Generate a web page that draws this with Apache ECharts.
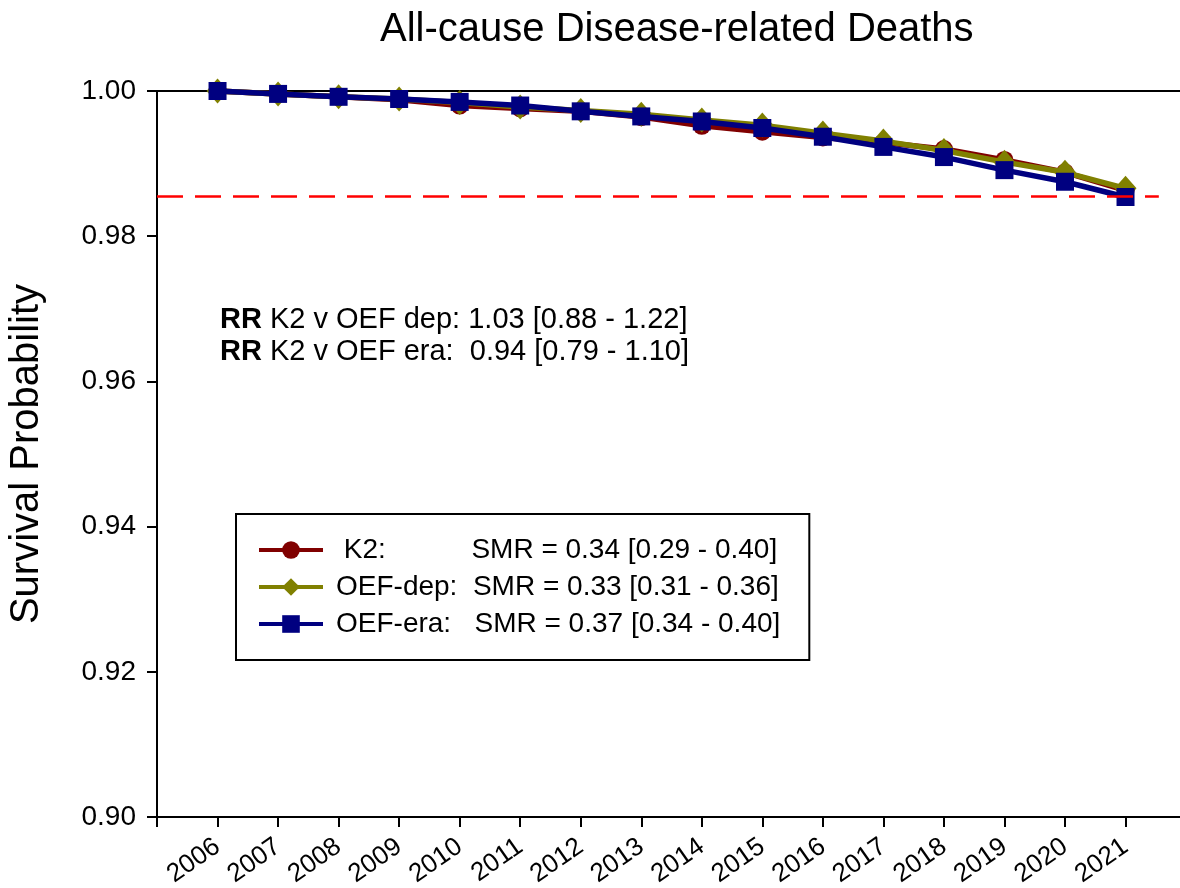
<!DOCTYPE html>
<html>
<head>
<meta charset="utf-8">
<title>All-cause Disease-related Deaths</title>
<script src="https://cdn.jsdelivr.net/npm/echarts@6/dist/echarts.min.js"></script>
<style>
	html, body { margin: 0; padding: 0; background: #fff; }
	#chart { width: 1180px; height: 888px; }
</style>
</head>
<body>
<div id="chart"></div>
<script>
// data
const years = [2006, 2007, 2008, 2009, 2010, 2011, 2012, 2013, 2014, 2015, 2016, 2017, 2018, 2019, 2020, 2021]
const k2 = [1.0000, 0.9996, 0.9992, 0.9988, 0.9980, 0.9976, 0.9972, 0.9964, 0.9952, 0.9944, 0.9936, 0.9929, 0.9920, 0.9905, 0.9888, 0.9863]
const oefDep = [1.0000, 0.9996, 0.9992, 0.9989, 0.9984, 0.9978, 0.9973, 0.9968, 0.9960, 0.9953, 0.9942, 0.9931, 0.9918, 0.9902, 0.9888, 0.9866]
const oefEra = [1.0000, 0.9996, 0.9992, 0.9989, 0.9985, 0.9980, 0.9972, 0.9965, 0.9958, 0.9949, 0.9937, 0.9923, 0.9909, 0.9891, 0.9875, 0.9854]
const seriesNames = ['K2', 'OEF-dep', 'OEF-era']
const legendLabels = [
	' K2:           SMR = 0.34 [0.29 - 0.40]',
	'OEF-dep:  SMR = 0.33 [0.31 - 0.36]',
	'OEF-era:   SMR = 0.37 [0.34 - 0.40]'
]
const refLevel = 0.9855
const refFrom = 2005
const refTo = 2021.55
const rrLines = [
	'{b|RR} K2 v OEF dep: 1.03 [0.88 - 1.22]',
	'{b|RR} K2 v OEF era:  0.94 [0.79 - 1.10]'
]

const font = 'Arial, "Liberation Sans", sans-serif'
const chart = echarts.init(document.getElementById('chart'))

function pairs(vals) {
	return years.map((y, i) => [y, vals[i]])
}

chart.setOption({
	animation: false,
	backgroundColor: '#fff',
	textStyle: { fontFamily: font, color: '#000' },
	title: {
		text: 'All-cause Disease-related Deaths',
		left: 380,
		top: 10,
		padding: 0,
		textStyle: { fontFamily: font, fontSize: 40, fontWeight: 'normal', color: '#000' }
	},
	grid: {
		left: 157,
		right: 0,
		top: 91,
		bottom: 71,
		containLabel: false,
		outerBoundsMode: 'none'
	},
	legend: {
		orient: 'vertical',
		left: 236,
		top: 514,
		padding: [22, 29, 22, 21],
		itemWidth: 64,
		itemHeight: 22,
		itemGap: 9,
		borderColor: '#000',
		borderWidth: 2,
		borderRadius: 0,
		lineStyle: { width: 4 },
		data: seriesNames,
		formatter: (name) => {
			return legendLabels[seriesNames.indexOf(name)]
		},
		textStyle: {
			fontFamily: font,
			fontSize: 28,
			lineHeight: 27,
			color: '#000',
			padding: [0, 0, 0, 8]
		}
	},
	xAxis: [
		{
			type: 'value',
			min: 2005,
			max: 2021.9,
			interval: 1,
			axisLine: { show: true, onZero: false, lineStyle: { color: '#000', width: 2 } },
			axisTick: { show: true, length: 10, inside: false, lineStyle: { color: '#000', width: 2 } },
			splitLine: { show: false },
			axisLabel: {
				rotate: 35,
				margin: 27,
				fontSize: 26,
				color: '#000',
				fontFamily: font,
				showMaxLabel: false,
				formatter: (v) => {
					// 2005 only frames the axis
					return v >= 2006 && v <= 2021 && v % 1 === 0 ? String(v) : ''
				}
			}
		},
		{
			// top frame line at 1.00
			type: 'value',
			position: 'top',
			min: 2005,
			max: 2021.9,
			axisLine: { show: true, onZero: false, lineStyle: { color: '#000', width: 2 } },
			axisTick: { show: false },
			axisLabel: { show: false },
			splitLine: { show: false }
		}
	],
	yAxis: {
		type: 'value',
		min: 0.9,
		max: 1.0,
		interval: 0.02,
		name: 'Survival Probability',
		nameLocation: 'middle',
		nameGap: 110,
		nameTextStyle: { fontFamily: font, fontSize: 40, color: '#000' },
		axisLine: { show: true, lineStyle: { color: '#000', width: 2 } },
		axisTick: { show: true, length: 10, lineStyle: { color: '#000', width: 2 } },
		splitLine: { show: false },
		axisLabel: {
			fontSize: 28,
			margin: 21,
			color: '#000',
			fontFamily: font,
			formatter: (v) => v.toFixed(2)
		}
	},
	graphic: [
		{
			type: 'text',
			left: 220,
			top: 304,
			style: {
				text: rrLines.join('\n'),
				font: '29px ' + font,
				fill: '#000',
				lineHeight: 32,
				rich: {
					b: { fontWeight: 'bold', fontSize: 29, fontFamily: font, lineHeight: 32 }
				}
			}
		}
	],
	series: [
		{
			name: seriesNames[0],
			type: 'line',
			data: pairs(k2),
			clip: false,
			symbol: 'circle',
			symbolSize: 18,
			color: '#800000',
			lineStyle: { width: 5.5, color: '#800000' },
			itemStyle: { color: '#800000' },
			markLine: {
				silent: true,
				symbol: 'none',
				label: { show: false },
				lineStyle: { color: '#ff0000', width: 2.5, type: [26, 12] },
				data: [[{ coord: [refFrom, refLevel] }, { coord: [refTo, refLevel] }]]
			},
			z: 2
		},
		{
			name: seriesNames[1],
			type: 'line',
			data: pairs(oefDep),
			clip: false,
			symbol: 'diamond',
			symbolSize: [22, 25],
			color: '#808000',
			lineStyle: { width: 5.5, color: '#808000' },
			itemStyle: { color: '#808000' },
			z: 3
		},
		{
			name: seriesNames[2],
			type: 'line',
			data: pairs(oefEra),
			clip: false,
			symbol: 'rect',
			symbolSize: 18,
			color: '#000080',
			lineStyle: { width: 5.5, color: '#000080' },
			itemStyle: { color: '#000080' },
			z: 4
		}
	]
})
</script>
</body>
</html>
